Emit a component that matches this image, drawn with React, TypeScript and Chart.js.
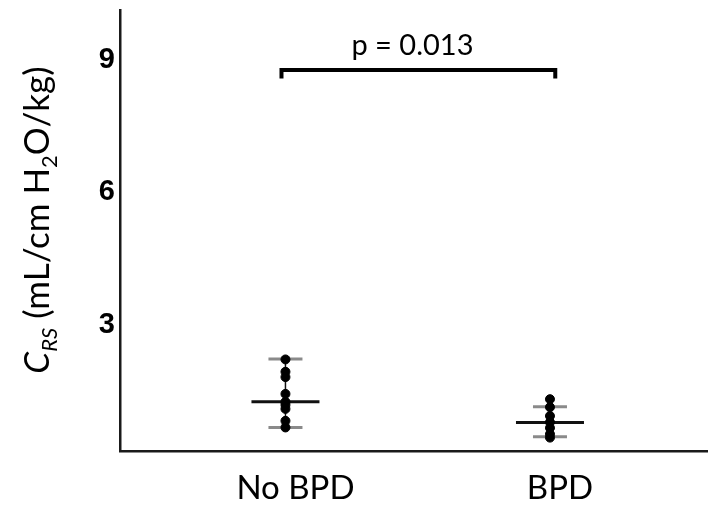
import React, { useEffect, useRef } from "react";
import { Chart, registerables } from "chart.js";

Chart.register(...registerables);

// ---- data ----
const categories = ["No BPD", "BPD"];
const noBpdValues = [2.22, 1.94, 1.82, 1.44, 1.26, 1.19, 1.1, 0.83, 0.68];
const bpdValues = [1.32, 1.14, 0.94, 0.8, 0.67, 0.53, 0.45];
const medians = [1.26, 0.79];
const lowerBars = [0.68, 0.47];
const upperBars = [2.23, 1.15];
const yTicks = [3, 6, 9];
const pValueLabel = "p = 0.013";
const bracketLevel = 8.77;
const bracketDrop = 8.58;

const FONT = "Lato, 'Open Sans', sans-serif";

const errorBarPlugin = {
  id: "errorBars",
  beforeDatasetsDraw(chart: any) {
    const { ctx, scales } = chart;
    const xs = scales.x;
    const ys = scales.y;
    ctx.save();
    categories.forEach((_, i) => {
      const cx = xs.getPixelForValue(i);
      const yU = ys.getPixelForValue(upperBars[i]);
      const yL = ys.getPixelForValue(lowerBars[i]);
      const yM = ys.getPixelForValue(medians[i]);
      ctx.strokeStyle = "#111";
      ctx.lineWidth = 1.5;
      ctx.beginPath();
      ctx.moveTo(cx, yU);
      ctx.lineTo(cx, yL);
      ctx.stroke();
      ctx.strokeStyle = "#8a8a8a";
      ctx.lineWidth = 3;
      ctx.beginPath();
      ctx.moveTo(cx - 17, yU);
      ctx.lineTo(cx + 17, yU);
      ctx.moveTo(cx - 17, yL);
      ctx.lineTo(cx + 17, yL);
      ctx.stroke();
      ctx.strokeStyle = "#111";
      ctx.lineWidth = 3;
      ctx.beginPath();
      ctx.moveTo(cx - 34, yM);
      ctx.lineTo(cx + 34, yM);
      ctx.stroke();
    });
    ctx.restore();
  },
  afterDraw(chart: any) {
    const { ctx, scales } = chart;
    const xs = scales.x;
    const ys = scales.y;
    ctx.save();
    const x0 = xs.getPixelForValue(-0.015);
    const x1 = xs.getPixelForValue(1.02);
    const yb = ys.getPixelForValue(bracketLevel);
    const yd = ys.getPixelForValue(bracketDrop);
    ctx.strokeStyle = "#000";
    ctx.lineWidth = 4;
    ctx.lineJoin = "miter";
    ctx.beginPath();
    ctx.moveTo(x0, yd);
    ctx.lineTo(x0, yb);
    ctx.lineTo(x1, yb);
    ctx.lineTo(x1, yd);
    ctx.stroke();
    ctx.fillStyle = "#000";
    ctx.font = `29px ${FONT}`;
    ctx.textAlign = "center";
    ctx.textBaseline = "alphabetic";
    ctx.fillText(pValueLabel, xs.getPixelForValue(0.48), yb - 15);

    const runs = [
      { t: "C", f: `italic 35px ${FONT}`, dy: 0 },
      { t: "RS", f: `italic 22px ${FONT}`, dy: 8 },
      { t: " (mL/cm H", f: `35px ${FONT}`, dy: 0 },
      { t: "2", f: `22px ${FONT}`, dy: 8 },
      { t: "O/kg)", f: `35px ${FONT}`, dy: 0 },
    ];
    let total = 0;
    runs.forEach((r) => {
      ctx.font = r.f;
      total += ctx.measureText(r.t).width;
    });
    const centerY = 220;
    ctx.translate(49, centerY + total / 2);
    ctx.rotate(-Math.PI / 2);
    ctx.textAlign = "left";
    let pos = 0;
    runs.forEach((r) => {
      ctx.font = r.f;
      ctx.fillText(r.t, pos, r.dy);
      pos += ctx.measureText(r.t).width;
    });
    ctx.restore();
  },
};

export default function App() {
  const ref = useRef<HTMLCanvasElement>(null);
  useEffect(() => {
    document.body.style.margin = "0";
    const canvas = ref.current;
    if (!canvas) return;
    const chart = new Chart(canvas, {
      type: "scatter",
      data: {
        datasets: [
          {
            label: categories[0],
            data: noBpdValues.map((v) => ({ x: 0, y: v })),
            backgroundColor: "#000",
            borderColor: "#000",
            pointRadius: 4.5,
          },
          {
            label: categories[1],
            data: bpdValues.map((v) => ({ x: 1, y: v })),
            backgroundColor: "#000",
            borderColor: "#000",
            pointRadius: 4.5,
          },
        ],
      },
      options: {
        responsive: false,
        animation: false,
        devicePixelRatio: 1,
        layout: { padding: { top: 10, right: 0, left: 0, bottom: 0 } },
        plugins: {
          legend: { display: false },
          tooltip: { enabled: false },
        },
        scales: {
          x: {
            type: "linear",
            min: -0.6255,
            max: 1.5955,
            afterFit: (s: any) => {
              s.height = 60;
              s.paddingLeft = 0;
              s.paddingRight = 0;
            },
            afterBuildTicks: (s: any) => {
              s.ticks = categories.map((_, i) => ({ value: i }));
            },
            ticks: {
              callback: (v: any) => categories[v] ?? "",
              color: "#000",
              font: { family: FONT, size: 33 },
              padding: 18,
              labelOffset: 10,
              autoSkip: false,
              maxRotation: 0,
            },
            grid: { drawOnChartArea: false, drawTicks: false },
            border: { display: true, color: "#1a1a1a", width: 2.5 },
          },
          y: {
            type: "linear",
            min: 0.147,
            max: 10.13,
            afterFit: (s: any) => {
              s.width = 120;
              s.paddingTop = 0;
              s.paddingBottom = 0;
            },
            afterBuildTicks: (s: any) => {
              s.ticks = yTicks.map((v) => ({ value: v }));
            },
            ticks: {
              color: "#000",
              font: { family: "'Liberation Sans', Arial, sans-serif", size: 29, weight: "bold" },
              padding: 5,
            },
            grid: { drawOnChartArea: false, drawTicks: false },
            border: { display: true, color: "#1a1a1a", width: 2.5 },
          },
        },
      },
      plugins: [errorBarPlugin],
    });
    return () => chart.destroy();
  }, []);
  return (
    <div style={{ width: 713, height: 511, background: "#fff" }}>
      <canvas ref={ref} width={713} height={511} />
    </div>
  );
}
